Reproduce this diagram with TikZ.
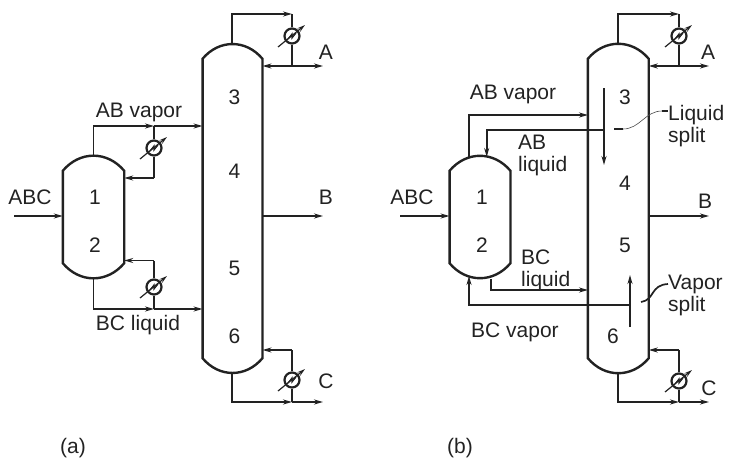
\documentclass[tikz,border=0pt]{standalone}
\usepackage{fontspec}
\setmainfont{Liberation Sans}
\usetikzlibrary{arrows.meta}
\definecolor{ink}{HTML}{222222}
\tikzstyle{column} = [
    rectangle,
    inner sep=0pt
]
\tikzstyle{wall} = [line width=2.4pt, color=ink]
\tikzstyle{pipe} = [line width=1.7pt, color=ink]
\tikzstyle{arrow} = [pipe, -{Stealth[length=9pt,width=5pt]}]
\tikzstyle{split} = [arrow, line width=2pt]
\tikzstyle{leader} = [line width=0.6pt, color=ink!80]
\tikzstyle{exchanger} = [
    circle,
    minimum size=15pt,
    inner sep=0pt,
    line width=2.2pt,
    draw=ink
]
\tikzstyle{label} = [
    inner sep=0pt,
    text=ink,
    font=\fontsize{21}{22}\selectfont
]
\tikzstyle{multi} = [label, align=left, anchor=west]
\newcommand{\hx}[2]{
    \node (#2) [exchanger] at (#1) {};
    \draw [shift={(#1)}, line width=1.2pt, color=ink, -{Stealth[length=8pt,width=4.5pt]}] (-14,11) -- (13,-11);
    \draw [shift={(#1)}, line width=1.2pt, color=ink] (-4,3) -- (0,-2) -- (0,2) -- (4,-3);
}
\newcommand{\vessel}[1]{
    \draw [wall] (#1.north west) to[bend left=50, looseness=1.1] (#1.north east) -- (#1.south east)
        to[bend left=50, looseness=1.1] (#1.south west) -- cycle;
}

\begin{document}
\begin{tikzpicture}[x=1pt, y=-1pt]

\useasboundingbox (0,0) rectangle (729,458);

% (a)
\node (colA) [column, minimum width=59.5pt, minimum height=299pt] at (232.5,208.5) {};
\node (drumA) [column, minimum width=61pt, minimum height=92pt] at (93.5,217) {};
\vessel{colA}
\vessel{drumA}

\hx{292,36}{condA}
\hx{292,380}{rebA}
\hx{154,148}{condAB}
\hx{154,287}{rebBC}

\coordinate (colAtop) at (232,44);
\coordinate (colAbot) at (232,373);
\coordinate (drumAtop) at (93.5,155);
\coordinate (drumAbot) at (93.5,279);
\coordinate (condAin) at (292,14);
\coordinate (teeA) at (292,66);
\coordinate (rebAout) at (292,402);
\coordinate (teeAB) at (154,126);
\coordinate (teeBC) at (154,309);
\coordinate (backAB) at (154,178);
\coordinate (backBC) at (154,260.5);
\coordinate (backC) at (292,350);

\node (feedA) [label] at (30,197) {ABC};
\coordinate (feedAin) at (14,216);
\node (vapA) [label] at (139,112) {AB vapor};
\node (liqA) [label] at (138,325) {BC liquid};
\node (aA) [label] at (326,52) {A};
\node (bA) [label] at (326,197) {B};
\node (cA) [label] at (326,381) {C};
\coordinate (aAout) at (323,66);
\coordinate (bAout) at (323,216);
\coordinate (cAout) at (323,402);
\node (n1A) [label] at (95,197) {1};
\node (n2A) [label] at (95,245) {2};
\node (n3A) [label] at (234.5,97) {3};
\node (n4A) [label] at (234.5,171) {4};
\node (n5A) [label] at (234.5,268) {5};
\node (n6A) [label] at (234.5,336) {6};
\node (capA) [label] at (73,448) {(a)};

\draw [arrow] (colAtop) |- (condAin);
\draw [pipe] (condAin) -- (condA);
\draw [pipe] (condA) -- (teeA);
\draw [arrow] (teeA) -- (colA.east |- teeA);
\draw [arrow] (teeA) -- (aAout);
\draw [arrow] (feedAin) -- (drumA.west |- feedAin);
\draw [arrow] (colA.east |- bAout) -- (bAout);
\draw [arrow] (drumAtop) |- (teeAB);
\draw [arrow] (teeAB) -- (colA.west |- teeAB);
\draw [pipe] (teeAB) -- (condAB);
\draw [pipe] (condAB) -- (backAB);
\draw [arrow] (backAB) -- (drumA.east |- backAB);
\draw [arrow] (drumAbot) |- (teeBC);
\draw [arrow] (teeBC) -- (colA.west |- teeBC);
\draw [pipe] (teeBC) -- (rebBC);
\draw [pipe] (rebBC) -- (backBC);
\draw [arrow] (backBC) -- (drumA.east |- backBC);
\draw [arrow] (colAbot) |- (rebAout);
\draw [arrow] (rebAout) -- (cAout);
\draw [pipe] (rebAout) -- (rebA);
\draw [pipe] (rebA) -- (backC);
\draw [arrow] (backC) -- (colA.east |- backC);

% (b)
\node (colB) [column, minimum width=60.5pt, minimum height=299pt] at (618.3,208.5) {};
\node (drumB) [column, minimum width=60.5pt, minimum height=92pt] at (480,217) {};
\vessel{colB}
\vessel{drumB}

\hx{679,36}{condB}
\hx{679,381}{rebB}

\coordinate (colBtop) at (618.3,44);
\coordinate (colBbot) at (618.3,373);
\coordinate (condBin) at (679,14);
\coordinate (teeB) at (679,66);
\coordinate (rebBout) at (679,402);
\coordinate (backCB) at (679,350);
\coordinate (feedBin) at (400,216);
\coordinate (aBout) at (709,66);
\coordinate (bBout) at (709,216);
\coordinate (cBout) at (709,402);
\coordinate (vapABout) at (469,157);
\coordinate (vapABin) at (588,115);
\coordinate (liqSplit) at (604,130);
\coordinate (liqTop) at (604,88);
\coordinate (liqBot) at (604,165);
\coordinate (liqDrum) at (486.7,157);
\coordinate (liqBCout) at (491,279);
\coordinate (liqBCin) at (588,290);
\coordinate (vapSplit) at (630,305);
\coordinate (vapTop) at (630,275);
\coordinate (vapBot) at (630,327);
\coordinate (vapDrum) at (469,276);

\node (feedB) [label] at (412,197) {ABC};
\node (vapAB) [label] at (513,94) {AB vapor};
\node (liqAB) [multi] at (518,155) {AB\\liquid};
\node (liqBC) [multi] at (521,270) {BC\\liquid};
\node (vapBC) [label] at (515,332) {BC vapor};
\node (liqNote) [multi] at (668,126) {Liquid\\split};
\node (vapNote) [multi] at (668,295.5) {Vapor\\split};
\node (aB) [label] at (708,52) {A};
\node (bB) [label] at (705,201) {B};
\node (cB) [label] at (709,388) {C};
\node (n1B) [label] at (482,197) {1};
\node (n2B) [label] at (482,245) {2};
\node (n3B) [label] at (625,97) {3};
\node (n4B) [label] at (625,183) {4};
\node (n5B) [label] at (625,245) {5};
\node (n6B) [label] at (613,336) {6};
\node (capB) [label] at (460,448) {(b)};

\draw [arrow] (colBtop) |- (condBin);
\draw [pipe] (condBin) -- (condB);
\draw [pipe] (condB) -- (teeB);
\draw [arrow] (teeB) -- (colB.east |- teeB);
\draw [arrow] (teeB) -- (aBout);
\draw [arrow] (feedBin) -- (drumB.west |- feedBin);
\draw [arrow] (colB.east |- bBout) -- (bBout);
\draw [split] (vapABout) |- (vapABin);
\draw [split] (liqSplit) -| (liqDrum);
\draw [split] (liqTop) -- (liqBot);
\draw [split] (liqBCout) |- (liqBCin);
\draw [split] (vapSplit) -| (vapDrum);
\draw [split] (vapBot) -- (vapTop);
\draw [arrow] (colBbot) |- (rebBout);
\draw [arrow] (rebBout) -- (cBout);
\draw [pipe] (rebBout) -- (rebB);
\draw [pipe] (rebB) -- (backCB);
\draw [arrow] (backCB) -- (colB.east |- backCB);

\draw [pipe] (614,129) -- (623,129);
\draw [leader] (623,129) .. controls (640,129) and (645,111) .. (662,111);
\draw [pipe] (662,111) -- (liqNote.west |- 0,111);
\draw [pipe] (641,302) .. controls (655,300) and (650,285) .. (vapNote.west |- 0,284);

\end{tikzpicture}
\end{document}
